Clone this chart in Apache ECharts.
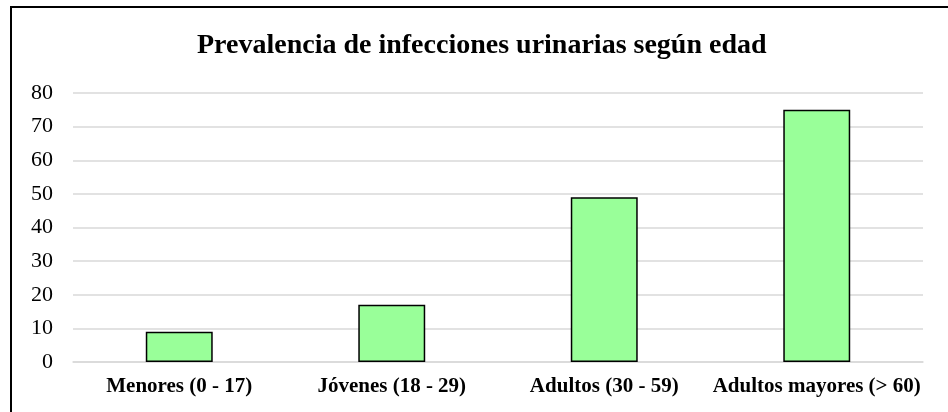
<!DOCTYPE html>
<html>
<head>
<meta charset="utf-8">
<script src="https://cdn.jsdelivr.net/npm/echarts@6/dist/echarts.min.js"></script>
<style>html,body{margin:0;padding:0;background:#fff;}#c{width:948px;height:412px;}</style>
</head>
<body>
<div id="c"></div>
<script>
const categories = ['Menores (0 - 17)', 'Jóvenes (18 - 29)', 'Adultos (30 - 59)', 'Adultos mayores (> 60)'];
const values = [9, 17, 49, 75];
const yTicks = { min: 0, max: 80, interval: 10 };
const titleText = 'Prevalencia de infecciones urinarias según edad';

const chart = echarts.init(document.getElementById('c'), null, { renderer: 'canvas' });
const serif = '"Liberation Serif", "Times New Roman", serif';
chart.setOption({
  animation: false,
  backgroundColor: '#fff',
  graphic: [{
    type: 'rect',
    shape: { x: 11, y: 7, width: 1000, height: 500 },
    style: { fill: 'none', stroke: '#000', lineWidth: 2 },
    silent: true
  }],
  title: {
    text: titleText,
    left: 192,
    top: 27,
    textStyle: { fontFamily: serif, fontWeight: 'bold', fontSize: 28, color: '#000' }
  },
  grid: { left: 73, right: 25, top: 93, bottom: 50, containLabel: false },
  xAxis: {
    type: 'category',
    data: categories,
    axisLine: { show: true, lineStyle: { color: '#d9d9d9', width: 1.5 } },
    axisTick: { show: false },
    axisLabel: { fontFamily: serif, fontWeight: 'bold', fontSize: 21, color: '#000', margin: 14, interval: 0 }
  },
  yAxis: {
    type: 'value',
    min: yTicks.min, max: yTicks.max, interval: yTicks.interval,
    axisLine: { show: false },
    axisTick: { show: false },
    splitLine: { lineStyle: { color: '#d9d9d9', width: 1.5 } },
    axisLabel: { fontFamily: serif, fontSize: 22, color: '#000', margin: 20 }
  },
  series: [{
    type: 'bar',
    data: values,
    barWidth: '31.5%',
    itemStyle: { color: '#99ff99', borderColor: '#000', borderWidth: 1.5 }
  }]
});
</script>
</body>
</html>
